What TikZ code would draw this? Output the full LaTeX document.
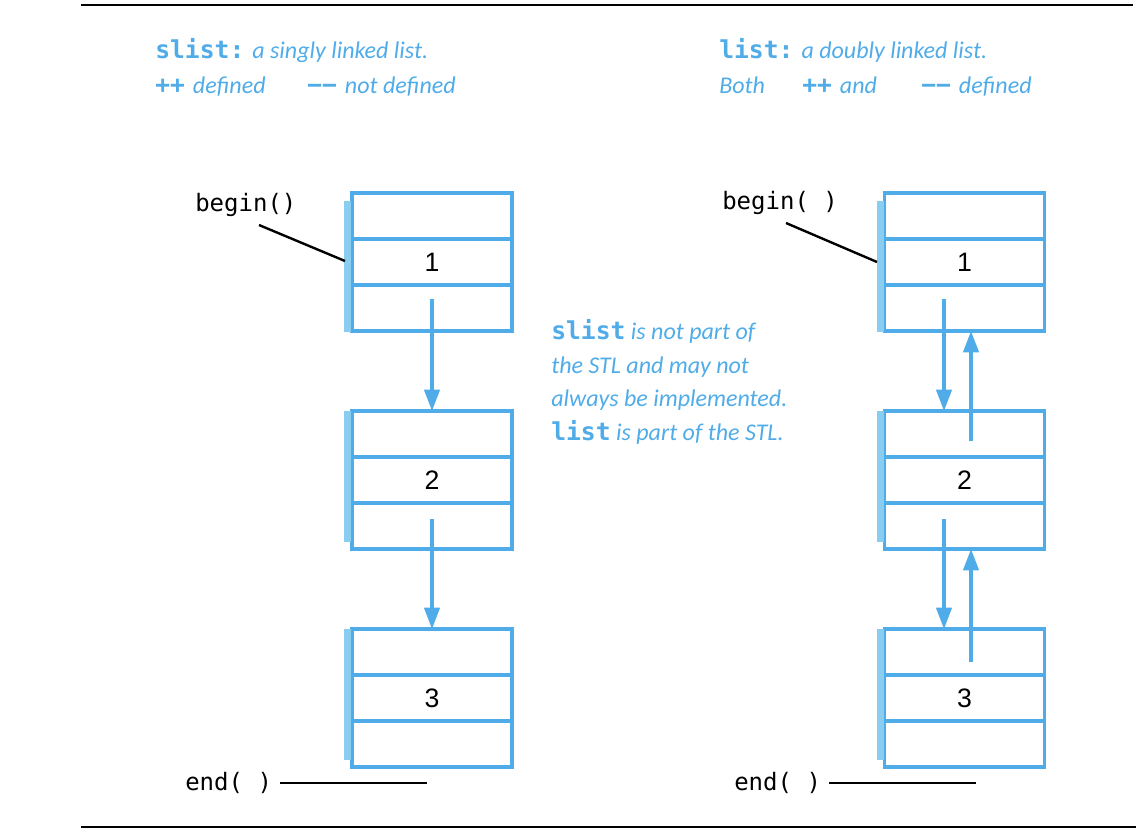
\documentclass[tikz,border=0pt]{standalone}
\usepackage{fontspec}
\setmainfont{Carlito}
\setmonofont{DejaVu Sans Mono}
\newfontfamily\digitfont{Liberation Sans}
\usetikzlibrary{arrows.meta,calc}
\definecolor{stlblue}{RGB}{80,172,232}
\definecolor{stlshade}{RGB}{137,206,240}
\newcommand{\kw}[1]{{\ttfamily\bfseries\upshape\fontsize{18.5}{18.5}\selectfont #1}}
\tikzset{
    cellbox/.style={draw=stlblue,line width=2.4pt,minimum width=120pt,minimum height=103.5pt,inner sep=0pt,outer sep=0pt,font={\digitfont\fontsize{20}{20}\selectfont}},
    boxline/.style={draw=stlblue,line width=2.4pt},
    shadebar/.style={fill=stlshade},
    linkarrow/.style={draw=stlblue,line width=2.4pt,-{Triangle[length=16pt,width=11.5pt]}},
    note/.style={text=stlblue,inner sep=0pt,font=\fontsize{18}{25.3}\selectfont\itshape},
    code/.style={inner sep=0pt,anchor=base west,font=\ttfamily\fontsize{18}{18}\selectfont},
    pointer/.style={line width=1.8pt},
}
\begin{document}
\begin{tikzpicture}[x=0.75pt,y=0.75pt,yscale=-1,xscale=1]
        \useasboundingbox (0,0) rectangle (1136,828);
        % rules
        \draw [line width=1.6pt] (81,5) -- (1133,5) ;
        \draw [line width=0.8pt] (81,827) -- (1136,827) ;
        % headings
        \node [note,anchor=base west] (slisthead) at (155,58) {\kw{slist:}\hspace{6pt}a singly linked list.};
        \node [note,anchor=base west] (slistinc) at (155,93) {\kw{++}\hspace{6pt}defined};
        \node [note,anchor=base west] (slistdec) at (307,93) {\kw{−−}\hspace{6pt}not defined};
        \node [note,anchor=base west] (listhead) at (719,58) {\kw{list:}\hspace{6pt}a doubly linked list.};
        \node [note,anchor=base west] (listboth) at (719,93) {Both};
        \node [note,anchor=base west] (listinc) at (802,93) {\kw{++}\hspace{6pt}and};
        \node [note,anchor=base west] (listdec) at (921,93) {\kw{−−}\hspace{6pt}defined};
        \node [note,anchor=west,align=left] (stlnote) at (551,382) {\kw{slist} is not part of\\the STL and may not\\always be implemented.\\\kw{list} is part of the STL.};
        % slist boxes
        \node [cellbox] (l1) at (432,262) {1};
        \node [cellbox] (l2) at (432,480) {2};
        \node [cellbox] (l3) at (432,698) {3};
        % list boxes
        \node [cellbox] (r1) at (964.5,262) {1};
        \node [cellbox] (r2) at (964.5,480) {2};
        \node [cellbox] (r3) at (964.5,698) {3};
        % shade bars
        \fill [shadebar] ($(l1.north west)+(-8,8)$) rectangle ($(l1.south west)+(-1,1)$) ;
        \fill [shadebar] ($(l2.north west)+(-8,0)$) rectangle ($(l2.south west)+(-1,-7)$) ;
        \fill [shadebar] ($(l3.north west)+(-8,0)$) rectangle ($(l3.south west)+(-1,-7)$) ;
        \fill [shadebar] ($(r1.north west)+(-8,8)$) rectangle ($(r1.south west)+(-1,1)$) ;
        \fill [shadebar] ($(r2.north west)+(-8,0)$) rectangle ($(r2.south west)+(-1,-7)$) ;
        \fill [shadebar] ($(r3.north west)+(-8,0)$) rectangle ($(r3.south west)+(-1,-7)$) ;
        % cell dividers
        \draw [boxline] ($(l1.north west)+(0,46)$) -- ($(l1.north east)+(0,46)$) ;
        \draw [boxline] ($(l1.north west)+(0,92)$) -- ($(l1.north east)+(0,92)$) ;
        \draw [boxline] ($(l2.north west)+(0,46)$) -- ($(l2.north east)+(0,46)$) ;
        \draw [boxline] ($(l2.north west)+(0,92)$) -- ($(l2.north east)+(0,92)$) ;
        \draw [boxline] ($(l3.north west)+(0,46)$) -- ($(l3.north east)+(0,46)$) ;
        \draw [boxline] ($(l3.north west)+(0,92)$) -- ($(l3.north east)+(0,92)$) ;
        \draw [boxline] ($(r1.north west)+(0,46)$) -- ($(r1.north east)+(0,46)$) ;
        \draw [boxline] ($(r1.north west)+(0,92)$) -- ($(r1.north east)+(0,92)$) ;
        \draw [boxline] ($(r2.north west)+(0,46)$) -- ($(r2.north east)+(0,46)$) ;
        \draw [boxline] ($(r2.north west)+(0,92)$) -- ($(r2.north east)+(0,92)$) ;
        \draw [boxline] ($(r3.north west)+(0,46)$) -- ($(r3.north east)+(0,46)$) ;
        \draw [boxline] ($(r3.north west)+(0,92)$) -- ($(r3.north east)+(0,92)$) ;
        % links
        \coordinate (l1next) at (432,299);
        \coordinate (l2next) at (432,519);
        \draw [linkarrow] (l1next) -- (l2.north) ;
        \draw [linkarrow] (l2next) -- (l3.north) ;
        \coordinate (r1next) at (944,299);
        \coordinate (r2next) at (944,519);
        \coordinate (r2prev) at (971,441);
        \coordinate (r3prev) at (971,662);
        \draw [linkarrow] (r1next) -- (r1next |- r2.north) ;
        \draw [linkarrow] (r2prev) -- (r2prev |- r1.south) ;
        \draw [linkarrow] (r2next) -- (r2next |- r3.north) ;
        \draw [linkarrow] (r3prev) -- (r3prev |- r2.south) ;
        % iterators
        \node [code] (lbegin) at (195,211) {begin()};
        \coordinate (lbeginfoot) at (259,225);
        \coordinate (lbegintip) at (345,261);
        \draw [pointer] (lbeginfoot) -- (lbegintip) ;
        \node [code] (rbegin) at (722,209) {begin( )};
        \coordinate (rbeginfoot) at (786,223);
        \coordinate (rbegintip) at (877,262);
        \draw [pointer] (rbeginfoot) -- (rbegintip) ;
        \node [code] (lend) at (185,790) {end( )};
        \coordinate (lendfrom) at (280,783);
        \coordinate (lendto) at (427,783);
        \draw [pointer] (lendfrom) -- (lendto) ;
        \node [code] (rend) at (734,790) {end( )};
        \coordinate (rendfrom) at (829,783);
        \coordinate (rendto) at (976,783);
        \draw [pointer] (rendfrom) -- (rendto) ;
    \end{tikzpicture}
\end{document}
